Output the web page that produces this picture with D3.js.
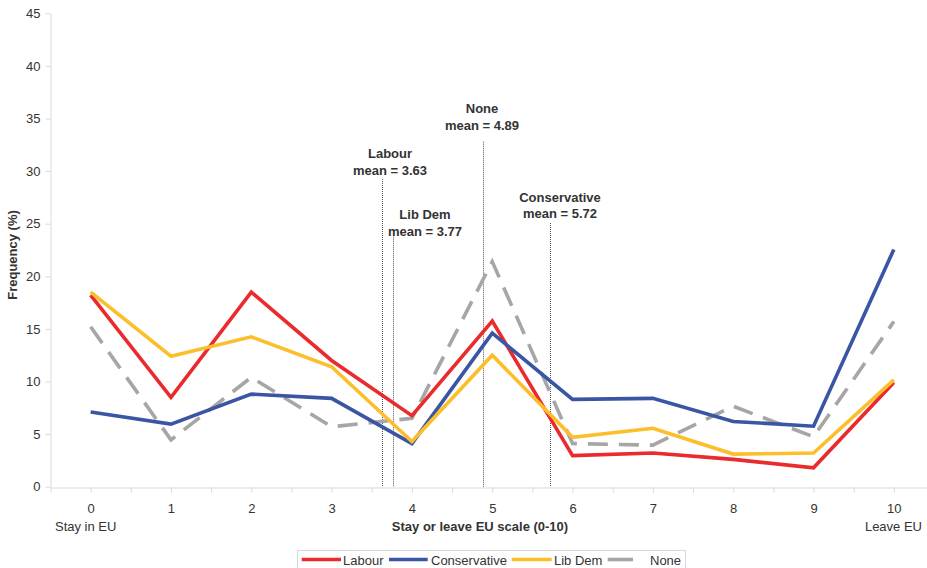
<!DOCTYPE html>
<html><head><meta charset="utf-8">
<script src="https://cdn.jsdelivr.net/npm/d3@7"></script>
<style>
body{margin:0;background:#fff;}
svg{display:block;font-family:"Liberation Sans",Arial,sans-serif;}
</style></head>
<body>
<svg id="c" width="927" height="568"></svg>
<script>
const scale = [0,1,2,3,4,5,6,7,8,9,10];
const labour =       [18.2, 8.5, 18.5, 12.0, 6.75, 15.75, 2.95, 3.2, 2.6, 1.8, 9.9];
const conservative = [7.1, 5.95, 8.8, 8.4, 4.1, 14.6, 8.3, 8.4, 6.2, 5.75, 22.55];
const libDem =       [18.5, 12.4, 14.25, 11.4, 4.3, 12.5, 4.7, 5.55, 3.1, 3.2, 10.15];
const none =         [15.2, 4.45, 10.4, 5.7, 6.5, 21.4, 4.1, 3.95, 7.65, 4.75, 15.7];
const seriesNames = ["Labour","Conservative","Lib Dem","None"];
const seriesColors = ["#ea2a2c","#3a55a4","#fcbf2b","#a6a6a6"];
const meanParties = ["Labour","Lib Dem","None","Conservative"];
const meanValues = [3.63, 3.77, 4.89, 5.72];
const yTicks = [0,5,10,15,20,25,30,35,40,45];

const svg = d3.select("#c");
const x = d3.scaleLinear().domain([-0.5,10.5]).range([50.5,934]);
const y = d3.scaleLinear().domain([0,45]).range([486.7,13.3]);
const txt = "#333";

// y axis
const ya = svg.append("g").attr("transform","translate(50.5,0)")
  .call(d3.axisLeft(y).tickValues(yTicks).tickSize(5).tickSizeOuter(0));
ya.select(".domain").attr("stroke","#d9d9d9");
ya.selectAll(".tick line").attr("stroke","#d9d9d9");
ya.selectAll("text").attr("font-size",13).attr("fill",txt).attr("font-family","Liberation Sans, Arial, sans-serif").attr("dx",-2);

// x axis with half ticks
const xa = svg.append("g").attr("transform","translate(0,"+487.5+")")
  .call(d3.axisBottom(x).tickValues(d3.range(-0.5,10.51,0.5)).tickSize(5).tickSizeOuter(0)
    .tickFormat(d => Number.isInteger(d) ? d : ""));
xa.select(".domain").attr("stroke","#d9d9d9");
xa.selectAll(".tick line").attr("stroke","#d9d9d9");
xa.selectAll("text").attr("font-size",13).attr("fill",txt).attr("font-family","Liberation Sans, Arial, sans-serif").attr("dy","1.35em");

// axis titles
svg.append("text").attr("transform","translate(17,"+255+") rotate(-90)")
  .attr("text-anchor","middle").attr("font-weight","bold").attr("font-size",13).attr("fill",txt)
  .text("Frequency (%)");
svg.append("text").attr("x",480).attr("y",531).attr("text-anchor","middle")
  .attr("font-weight","bold").attr("font-size",13).attr("fill",txt).text("Stay or leave EU scale (0-10)");
svg.append("text").attr("x",55).attr("y",531).attr("font-size",13).attr("fill",txt).text("Stay in EU");
svg.append("text").attr("x",922).attr("y",531).attr("text-anchor","end").attr("font-size",13).attr("fill",txt).text("Leave EU");

// mean lines
const meanTops = [179, 236.7, 141.7, 223];
const labelCx = [390, 425, 482, 560];
const labelBase = [158, 219.3, 113, 201.7];
meanValues.forEach((m,i)=>{
  svg.append("line").attr("x1",Math.round(x(m))+0.5).attr("x2",Math.round(x(m))+0.5)
    .attr("y1",meanTops[i]).attr("y2",487)
    .attr("stroke","#555").attr("stroke-width",1).attr("stroke-dasharray","1,1");
  const t = svg.append("text").attr("text-anchor","middle").attr("font-weight","bold")
    .attr("font-size",13).attr("fill",txt);
  t.append("tspan").attr("x",labelCx[i]).attr("y",labelBase[i]).text(meanParties[i]);
  t.append("tspan").attr("x",labelCx[i]).attr("y",labelBase[i]+16.5).text("mean = "+meanValues[i].toFixed(2));
});

// lines
const data = [labour, conservative, libDem, none];
const line = d3.line().x((d,i)=>x(scale[i])).y(d=>y(d));
// draw None first? order: None behind
[3,0,1,2].forEach(k=>{
  svg.append("path").datum(data[k]).attr("d",line).attr("fill","none")
    .attr("stroke",seriesColors[k]).attr("stroke-width",3.6)
    .attr("stroke-linejoin","miter")
    .attr("stroke-dasharray", k===3 ? "20,11" : null);
});

// legend
const lg = svg.append("g");
lg.append("rect").attr("x",297.5).attr("y",550.5).attr("width",388).attr("height",30)
  .attr("fill","#fff").attr("stroke","#d9d9d9");
const legX = [[301.7,341,343],[389,427.7,431],[511.7,551.7,554],[607.7,633,650]];
seriesNames.forEach((n,i)=>{
  lg.append("line").attr("x1",legX[i][0]).attr("x2",legX[i][1]).attr("y1",559.5).attr("y2",559.5)
    .attr("stroke",seriesColors[i]).attr("stroke-width",3.6);
  lg.append("text").attr("x",legX[i][2]).attr("y",564.5).attr("font-size",13).attr("fill",txt).text(n);
});
</script>
</body></html>
